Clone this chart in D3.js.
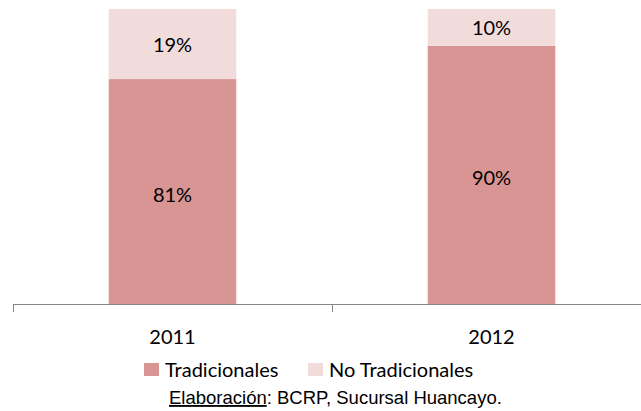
<!DOCTYPE html>
<html lang="es">
<head>
  <meta charset="UTF-8" />
  <title>Exportaciones</title>
  <script src="https://d3js.org/d3.v7.min.js"></script>
  <style>
    body { margin: 0; background: #fff; }
    .lbl { font-family: Lato, "Open Sans", sans-serif; font-size: 20px; fill: #000; }
    .src { font-family: "Liberation Sans", Arial, sans-serif; font-size: 18.5px; fill: #000; }
  </style>
</head>
<body>
<script>
var years = ["2011", "2012"];
var series = ["Tradicionales", "No Tradicionales"];
var tradicionales = [0.81, 0.90];
var noTradicionales = [0.19, 0.10];
var colors = ["#D99594", "#F2DCDB"];

var W = 641, H = 411;
var svg = d3.select("body").append("svg").attr("width", W).attr("height", H);

var m = { left: 13, right: 651, top: 9, bottom: 304 };
var x = d3.scaleBand().domain(years).range([m.left, m.right]).paddingInner(0.6).paddingOuter(0.3);
var y = d3.scaleLinear().domain([0.2, 1]).range([m.bottom, m.top]);

// los datos apilados
var rows = years.map(function(yr, i) {
  return { year: yr, Tradicionales: tradicionales[i], "No Tradicionales": noTradicionales[i] };
});
var stacked = d3.stack().keys(series)(rows);

svg.append("clipPath").attr("id", "plot")
  .append("rect").attr("x", 0).attr("y", m.top).attr("width", W).attr("height", m.bottom - m.top);

var g = svg.append("g").attr("clip-path", "url(#plot)");
g.selectAll("g.serie").data(stacked).enter().append("g")
  .attr("fill", function(d, i) { return colors[i]; })
  .selectAll("rect").data(function(d) { return d; }).enter().append("rect")
  .attr("x", function(d) { return x(d.data.year); })
  .attr("width", x.bandwidth())
  .attr("y", function(d) { return y(d[1]); })
  .attr("height", function(d) { return y(d[0]) - y(d[1]); });

// etiquetas de porcentaje, centradas en la parte visible
stacked.forEach(function(s) {
  s.forEach(function(d) {
    var y0 = Math.min(y(d[0]), m.bottom), y1 = Math.max(y(d[1]), m.top);
    svg.append("text").attr("class", "lbl")
      .attr("x", x(d.data.year) + x.bandwidth() / 2)
      .attr("y", (y0 + y1) / 2 + (d[0] === 0 ? 3 : 1))
      .attr("text-anchor", "middle").attr("dy", "0.35em")
      .text(d3.format(".0%")(d[1] - d[0]));
  });
});

// eje x
var ax = svg.append("g").attr("stroke", "#868686").attr("stroke-width", 1);
ax.append("line").attr("x1", m.left).attr("x2", m.right).attr("y1", m.bottom + 0.5).attr("y2", m.bottom + 0.5);
var bounds = [m.left, m.left + x.step(), m.left + 2 * x.step()];
ax.selectAll("line.tk").data(bounds).enter().append("line")
  .attr("x1", function(d) { return Math.round(d) + 0.5; })
  .attr("x2", function(d) { return Math.round(d) + 0.5; })
  .attr("y1", m.bottom).attr("y2", m.bottom + 8);

svg.selectAll("text.yr").data(years).enter().append("text").attr("class", "lbl")
  .attr("x", function(d) { return x(d) + x.bandwidth() / 2; })
  .attr("y", 344).attr("text-anchor", "middle")
  .text(function(d) { return d; });

// leyenda
var legX = [144, 308];
var leg = svg.selectAll("g.leg").data(series).enter().append("g")
  .attr("transform", function(d, i) { return "translate(" + legX[i] + ",363)"; });
leg.append("rect").attr("width", 15).attr("height", 13).attr("fill", function(d, i) { return colors[i]; });
leg.append("text").attr("class", "lbl").attr("x", 21).attr("y", 14).text(function(d) { return d; });

// fuente
var src = svg.append("text").attr("class", "src").attr("x", 169).attr("y", 404);
src.append("tspan").attr("text-decoration", "underline").text("Elaboración");
src.append("tspan").text(": BCRP, Sucursal Huancayo.");
</script>
</body>
</html>
